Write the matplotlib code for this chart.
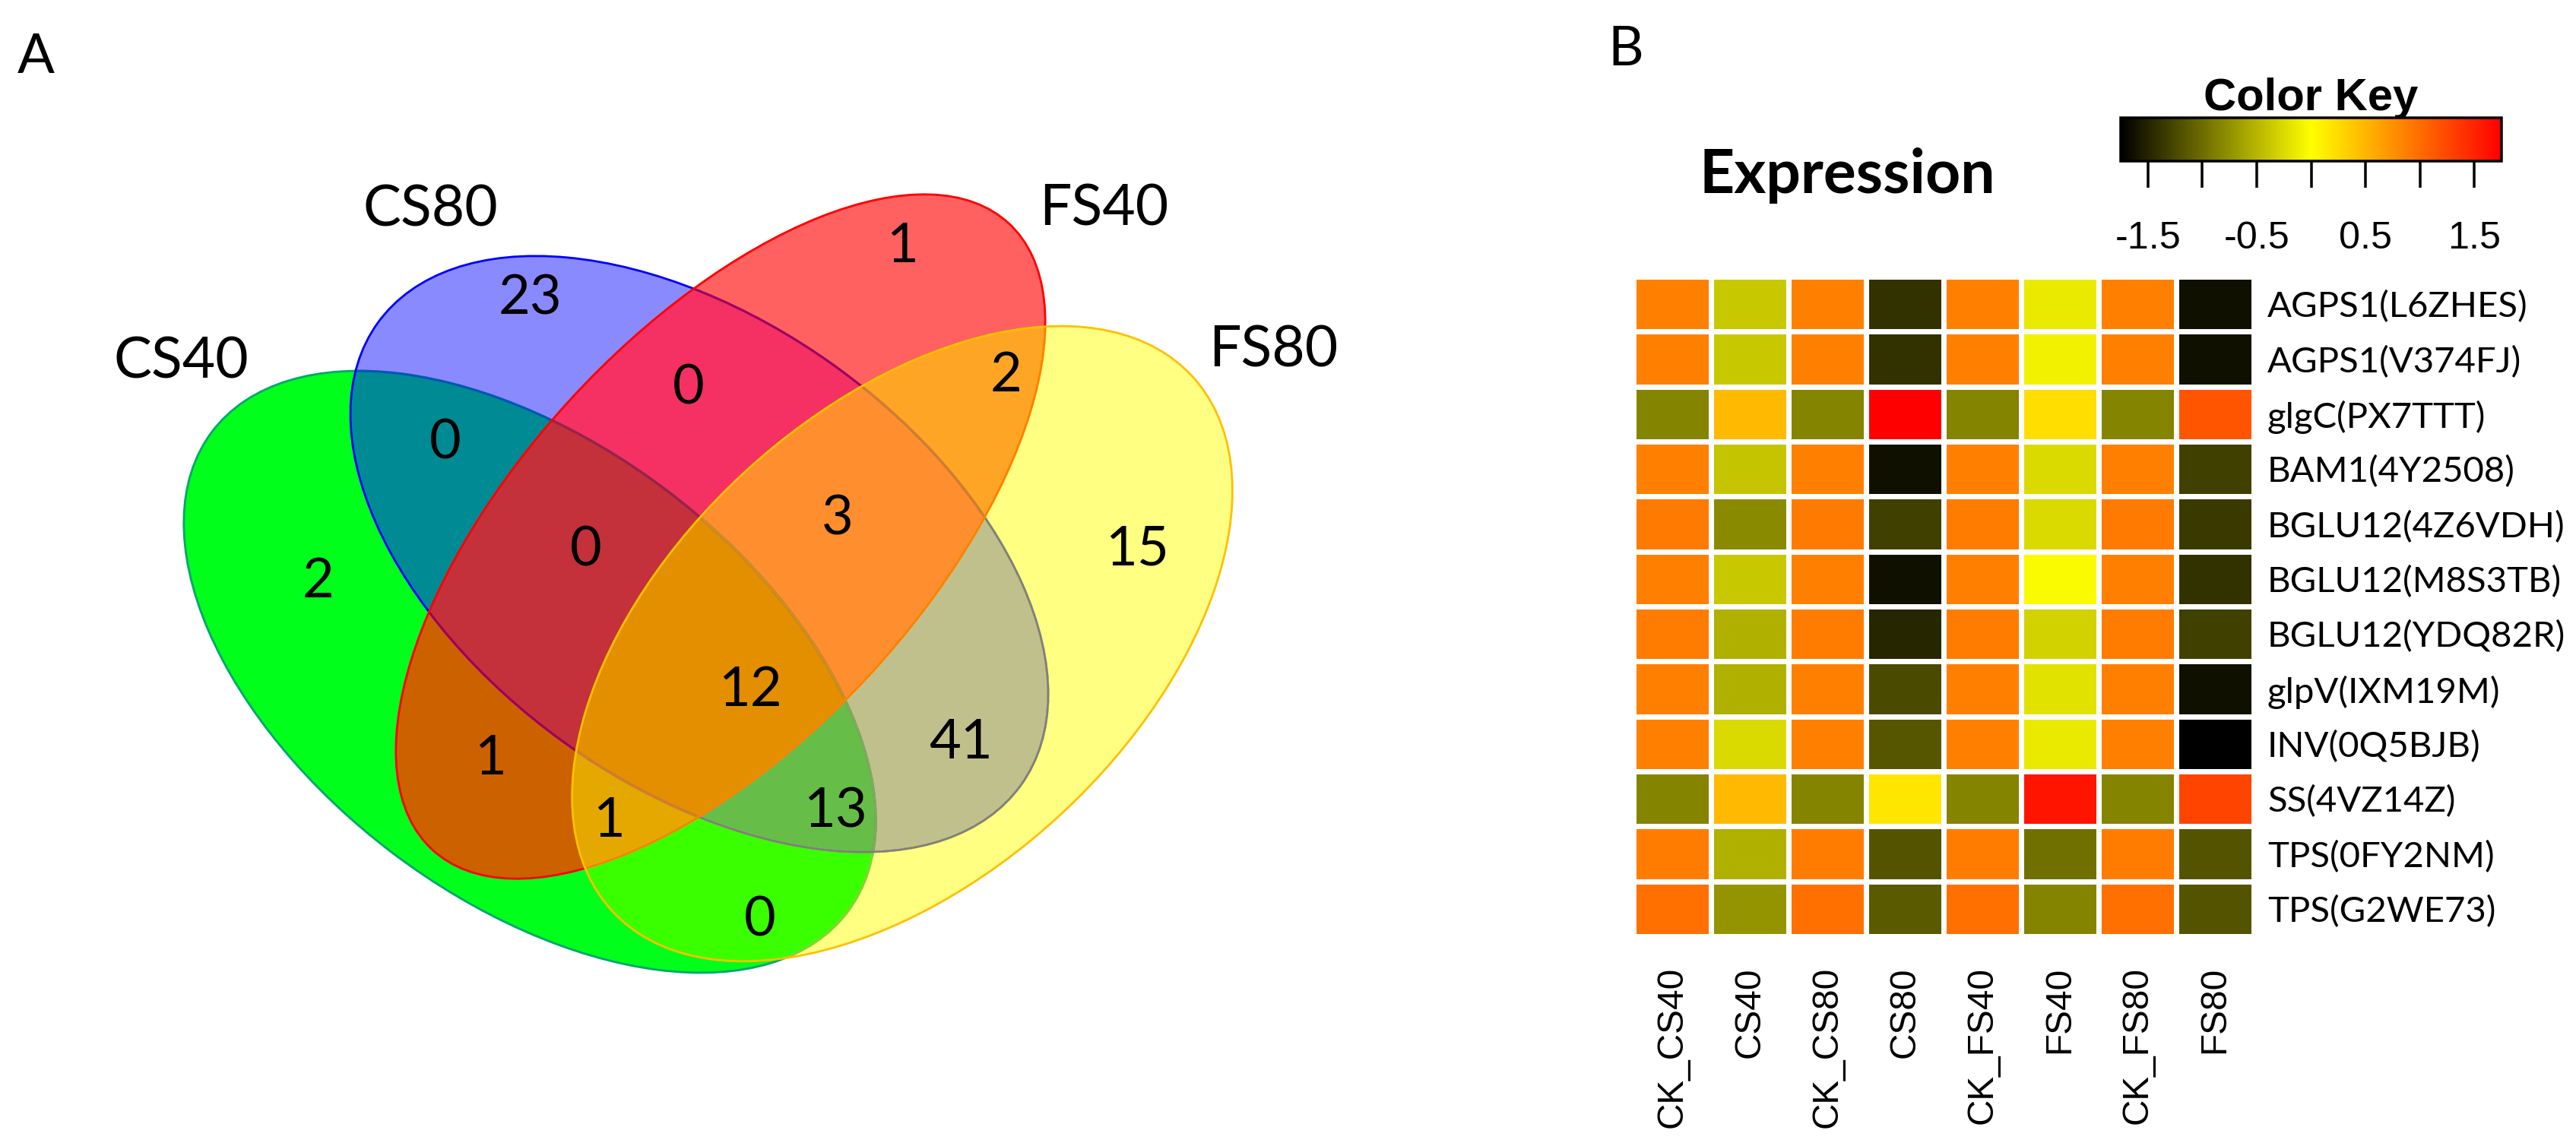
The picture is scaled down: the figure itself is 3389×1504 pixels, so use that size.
import numpy as np
import matplotlib
matplotlib.use('Agg')
import matplotlib.pyplot as plt
from matplotlib.patches import Ellipse
from matplotlib.colors import LinearSegmentedColormap, Normalize, to_rgb
from matplotlib import font_manager as fm
import matplotlib.cm as cm

# ------------------------------------------------------------------ data
venn_sets = ['CS40', 'CS80', 'FS40', 'FS80']
# region keys: membership bits in order CS40, CS80, FS40, FS80
venn_region_keys = ['1000', '0100', '0010', '0001', '1100', '0110', '0011',
                    '1001', '1010', '0101', '1110', '0111', '1101', '1011', '1111']
venn_region_counts = [2, 23, 1, 15, 0, 0, 2, 0, 1, 41, 0, 3, 13, 1, 12]

heat_cols = ['CK_CS40', 'CS40', 'CK_CS80', 'CS80', 'CK_FS40', 'FS40', 'CK_FS80', 'FS80']
heat_rows = ['AGPS1(L6ZHES)', 'AGPS1(V374FJ)', 'glgC(PX7TTT)', 'BAM1(4Y2508)',
             'BGLU12(4Z6VDH)', 'BGLU12(M8S3TB)', 'BGLU12(YDQ82R)', 'glpV(IXM19M)',
             'INV(0Q5BJB)', 'SS(4VZ14Z)', 'TPS(0FY2NM)', 'TPS(G2WE73)']
heat_values = [
    [0.87, -0.38, 0.87, -1.40, 0.87, -0.14, 0.87, -1.63],
    [0.87, -0.38, 0.87, -1.40, 0.87, -0.09, 0.87, -1.63],
    [-0.84, 0.47, -0.84, 1.75, -0.84, 0.23, -0.84, 1.17],
    [0.87, -0.40, 0.87, -1.63, 0.87, -0.25, 0.87, -1.30],
    [0.91, -0.80, 0.91, -1.31, 0.89, -0.25, 0.91, -1.34],
    [0.87, -0.38, 0.87, -1.63, 0.87, -0.03, 0.87, -1.40],
    [0.90, -0.54, 0.90, -1.48, 0.90, -0.31, 0.90, -1.30],
    [0.87, -0.54, 0.87, -1.24, 0.87, -0.20, 0.87, -1.63],
    [0.87, -0.25, 0.87, -1.15, 0.87, -0.14, 0.87, -1.75],
    [-0.84, 0.47, -0.84, 0.17, -0.84, 1.61, -0.84, 1.28],
    [0.90, -0.54, 0.90, -1.17, 0.90, -0.98, 0.90, -1.17],
    [0.98, -0.73, 0.98, -1.13, 0.98, -0.84, 0.98, -1.17],
]
key_ticks = [-1.5, -1.0, -0.5, 0.0, 0.5, 1.0, 1.5]
key_tick_labels = ['-1.5', '', '-0.5', '', '0.5', '', '1.5']
key_range = (-1.75, 1.75)

# ------------------------------------------------------------------ layout / style
W, H = 3389, 1504
DPI = 100
PT = 72.0 / DPI          # points per pixel

# ellipses in pixel coords (y down): cx, cy, width, height, angle
ellipse_geom = {
    'CS40': (697, 884, 1048, 598, 37.1),
    'CS80': (920, 729, 1042, 610, 35.7),
    'FS40': (948, 706, 1120, 535, -47.4),
    'FS80': (1187, 847, 1038, 613, -42.7),
}
edge_colors = {'CS40': '#00A86B', 'CS80': '#0000FF', 'FS40': '#FF0000', 'FS80': '#FFC000'}
overlay_tints = {'CS80': ('#0000FF', 0.47), 'FS40': ('#FF0000', 0.6), 'FS80': ('#FFFF00', 0.5)}
region_colors = {
    '1000': '#00FF1A', '0100': '#8A8AFF', '0010': '#FF6161', '0001': '#FFFF82',
    '1100': '#008A94', '0110': '#F43162', '0011': '#FFA526', '1001': '#3AFF00',
    '1010': '#CC6100', '0101': '#C0C08C', '1110': '#C4313A', '0111': '#FF8F2E',
    '1101': '#66BE48', '1011': '#E4A800', '1111': '#E38F00',
}
label_pos = {'CS40': (238, 471), 'CS80': (566, 271), 'FS40': (1452, 270), 'FS80': (1675, 456)}
count_pos = {
    '1000': (419, 760), '0100': (697, 388), '0010': (1187, 319), '0001': (1496, 718),
    '1100': (586, 578), '0110': (906, 506), '0011': (1324, 489), '1001': (1000, 1206),
    '1010': (645, 993), '0101': (1264, 972), '1110': (771, 719), '0111': (1102, 678),
    '1101': (1099, 1063), '1011': (801, 1075), '1111': (987, 903),
}

names = {f.name for f in fm.fontManager.ttflist}
if 'Liberation Sans Narrow' in names:
    NARROW, NSCALE = 'Liberation Sans Narrow', 1.0
else:
    NARROW, NSCALE = 'Liberation Sans', 0.86
SANS = 'Lato'

fig = plt.figure(figsize=(W / DPI, H / DPI), dpi=DPI)
fig.patch.set_facecolor('white')
base = fig.add_axes([0, 0, 1, 1])
base.set_xlim(0, W)
base.set_ylim(H, 0)
base.axis('off')


def ctext(x, y, s, size, family=SANS, weight='normal', cap=0.7165):
    px = size / PT
    base.text(x, y + cap * px / 2.0, s, fontsize=size, family=family, weight=weight,
              ha='center', va='baseline', color='black', zorder=10)


def inside(name, X, Y):
    cx, cy, w, h, ang = ellipse_geom[name]
    t = np.deg2rad(ang)
    dx, dy = X - cx, Y - cy
    u = np.cos(t) * dx + np.sin(t) * dy
    v = -np.sin(t) * dx + np.cos(t) * dy
    return (u / (w / 2)) ** 2 + (v / (h / 2)) ** 2 <= 1.0


# ---- Venn raster of region colours
x0, x1, y0, y1 = 200, 1700, 220, 1330
X, Y = np.meshgrid(np.arange(x0, x1) + 0.5, np.arange(y0, y1) + 0.5)
code = np.zeros(X.shape, dtype=int)
for i, s in enumerate(venn_sets):
    code += inside(s, X, Y).astype(int) << (3 - i)
img = np.zeros(X.shape + (4,))
for key, col in region_colors.items():
    m = code == int(key, 2)
    img[m, :3] = to_rgb(col)
    img[m, 3] = 1.0
base.imshow(img, extent=(x0, x1, y1, y0), interpolation='nearest', zorder=1, aspect='auto')

# ---- outlines, tinted by the sets drawn after them
lw = 2.8 * PT
for i, s in enumerate(venn_sets):
    cx, cy, w, h, ang = ellipse_geom[s]
    base.add_patch(Ellipse((cx, cy), w, h, angle=ang, fill=False,
                           edgecolor=edge_colors[s], lw=lw, zorder=3 + i))
    for s2 in venn_sets[i + 1:]:
        tint, a = overlay_tints[s2]
        e = Ellipse((cx, cy), w, h, angle=ang, fill=False, edgecolor=tint,
                    alpha=a, lw=lw + 0.3, zorder=3 + i + 0.5)
        c2 = ellipse_geom[s2]
        clip = Ellipse((c2[0], c2[1]), c2[2], c2[3], angle=c2[4], transform=base.transData)
        base.add_patch(e)
        e.set_clip_path(clip)

for s in venn_sets:
    ctext(*label_pos[s], s, 54)
for key, n in zip(venn_region_keys, venn_region_counts):
    ctext(*count_pos[key], str(n), 52)

ctext(47, 70, 'A', 52)
ctext(2139, 60, 'B', 52)
ctext(2430, 225, 'Expression', 58, weight='bold')
ctext(3040, 124, 'Color Key', 50 * NSCALE, family=NARROW, weight='bold', cap=0.716)

# ---- heatmap
cmap = LinearSegmentedColormap.from_list('bkyr', ['black', 'yellow', 'red'])
norm = Normalize(*key_range)
hx0, hx1, hy0, hy1 = 2149, 2965, 364, 1232
axh = fig.add_axes([hx0 / W, 1 - hy1 / H, (hx1 - hx0) / W, (hy1 - hy0) / H])
vals = np.array(heat_values)
axh.pcolormesh(np.arange(len(heat_cols) + 1), np.arange(len(heat_rows) + 1), vals,
               cmap=cmap, norm=norm, edgecolors='white', linewidth=6.5 * PT)
axh.set_xlim(0, len(heat_cols))
axh.set_ylim(len(heat_rows), 0)
for sp in axh.spines.values():
    sp.set_visible(False)
axh.set_xticks(np.arange(len(heat_cols)) + 0.5)
axh.set_xticklabels(heat_cols, rotation=90, family=NARROW, fontsize=40 * NSCALE)
axh.set_yticks(np.arange(len(heat_rows)) + 0.5)
axh.set_yticklabels(heat_rows, family=SANS, fontsize=34)
axh.yaxis.tick_right()
axh.tick_params(axis='x', length=0, pad=40 * PT)
axh.tick_params(axis='y', length=0, pad=18 * PT)

# ---- colour key
kx0, kx1, ky0, ky1 = 2790, 3291, 155, 212
axk = fig.add_axes([kx0 / W, 1 - ky1 / H, (kx1 - kx0) / W, (ky1 - ky0) / H])
sm = cm.ScalarMappable(norm=norm, cmap=cmap)
cb = fig.colorbar(sm, cax=axk, orientation='horizontal', ticks=key_ticks)
cb.ax.set_xticklabels(key_tick_labels)
cb.outline.set_linewidth(3.5 * PT)
cb.ax.tick_params(axis='x', direction='out', length=35 * PT, width=3.5 * PT,
                  pad=44 * PT, labelsize=42 * NSCALE)
for t in cb.ax.get_xticklabels():
    t.set_family(NARROW)

fig.savefig('out.png', dpi=DPI, facecolor='white')
